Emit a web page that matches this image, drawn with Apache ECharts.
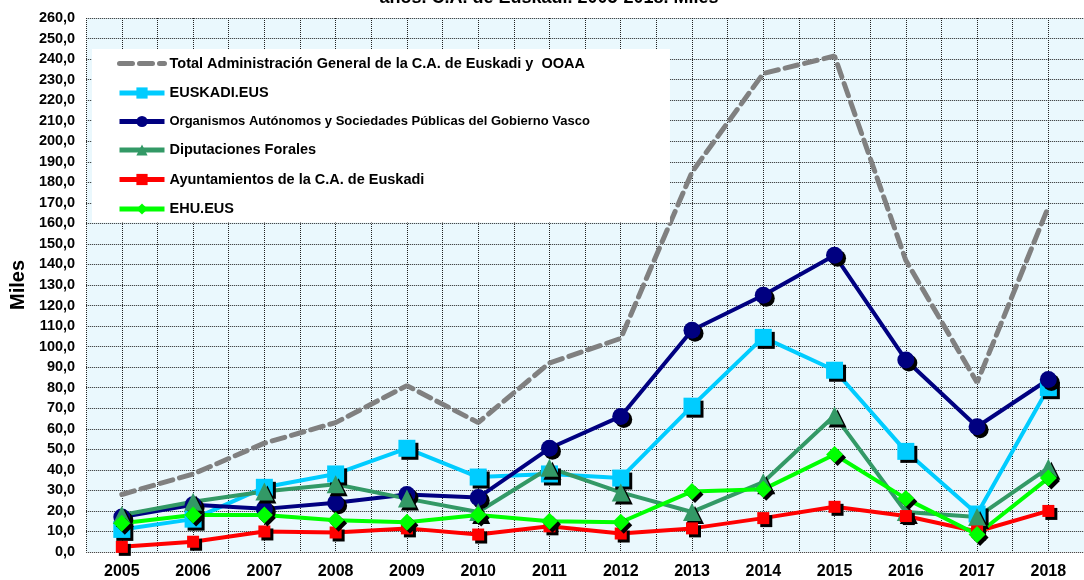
<!DOCTYPE html>
<html>
<head>
<meta charset="utf-8">
<script src="https://cdn.jsdelivr.net/npm/echarts@6/dist/echarts.min.js"></script>
<style>
  html, body { margin: 0; padding: 0; background: #fff; }
  #chart { width: 1084px; height: 580px; }
</style>
</head>
<body>
<div id="chart"></div>
<script>
const years = ['2005', '2006', '2007', '2008', '2009', '2010', '2011', '2012', '2013', '2014', '2015', '2016', '2017', '2018']

const totalAdmin = [28, 38, 53, 63, 81, 63, 92, 104, 185, 233, 241.5, 142, 82.5, 168]
const euskadiEus = [11, 16, 31.5, 38, 50.5, 36.5, 38, 36, 71, 104.5, 88.5, 49, 18.5, 80]
const organismos = [17, 23, 21, 24, 28, 26.5, 50.5, 66, 108, 125, 144.5, 93.5, 61, 84]
const diputaciones = [18, 24.5, 29.5, 33, 26, 19.5, 41, 29, 19.5, 34, 66.5, 19.5, 17, 41]
const ayuntamientos = [2.5, 5, 10, 9.5, 11.5, 8.5, 12.5, 9, 11.5, 16.5, 22, 17.5, 10, 20]
const ehuEus = [14, 18, 18, 15.5, 14.5, 18, 15, 14.5, 29.5, 30.5, 47.5, 26, 8.5, 36]

const legendNames = [
  'Total Administración General de la C.A. de Euskadi y  OOAA',
  'EUSKADI.EUS',
  'Organismos Autónomos y Sociedades Públicas del Gobierno Vasco',
  'Diputaciones Forales',
  'Ayuntamientos de la C.A. de Euskadi',
  'EHU.EUS'
]

const chart = echarts.init(document.getElementById('chart'))

const markerShadow = {
  shadowColor: '#000',
  shadowBlur: 0,
  shadowOffsetX: 3,
  shadowOffsetY: 3
}

const lineSeries = (name, data, color, symbol, size) => ({
  name: name,
  type: 'line',
  data: data,
  symbol: symbol,
  symbolSize: size,
  lineStyle: { color: color, width: 4 },
  itemStyle: Object.assign({ color: color }, markerShadow)
})

const option = {
  backgroundColor: '#fff',
  animation: false,
  textStyle: { fontFamily: 'Liberation Sans, Arial, sans-serif' },

  title: {
    text: 'años. C.A. de Euskadi. 2005-2018. Miles',
    left: 544,
    textAlign: 'center',
    top: -16,
    textStyle: { fontSize: 18, fontWeight: 'bold', color: '#000' }
  },

  legend: {
    orient: 'vertical',
    left: 92,
    top: 49,
    backgroundColor: '#fff',
    padding: [7, 80, 6, 25],
    itemWidth: 45,
    itemHeight: 14,
    itemGap: 14.5,
    lineStyle: { width: 5 },
    itemStyle: { shadowColor: 'transparent', shadowOffsetX: 0, shadowOffsetY: 0 },
    textStyle: { fontSize: 14.5, fontWeight: 'bold', color: '#000' },
    data: [
      { name: legendNames[0], itemStyle: { opacity: 0 } },
      { name: legendNames[1] },
      { name: legendNames[2], textStyle: { fontSize: 13 } },
      { name: legendNames[3] },
      { name: legendNames[4] },
      { name: legendNames[5] }
    ]
  },

  grid: {
    left: 85,
    right: -12,
    top: 18,
    bottom: 28,
    show: true,
    backgroundColor: '#eaf8fd',
    borderWidth: 0
  },

  xAxis: [
    {
      type: 'category',
      data: years,
      boundaryGap: true,
      axisLine: { show: false },
      axisTick: { show: false },
      splitLine: { show: false },
      axisLabel: { color: '#000', fontSize: 16, fontWeight: 'bold', margin: 12 }
    },
    {
      // half-category grid lines
      type: 'value',
      min: -0.5,
      max: 13.5,
      interval: 0.5,
      show: true,
      position: 'bottom',
      axisLine: { show: false },
      axisTick: { show: false },
      axisLabel: { show: false },
      splitLine: { lineStyle: { color: '#222', type: [1, 1], width: 1 } }
    }
  ],

  yAxis: {
    type: 'value',
    min: 0,
    max: 260,
    interval: 10,
    name: 'Miles',
    nameLocation: 'middle',
    nameRotate: 90,
    nameGap: 56,
    nameTextStyle: { fontSize: 20, fontWeight: 'bold', color: '#000' },
    axisLine: { show: false },
    axisTick: { show: false },
    axisLabel: {
      color: '#000',
      fontSize: 14.5,
      fontWeight: 'bold',
      margin: 11,
      formatter: (v) => v.toFixed(1).replace('.', ',')
    },
    splitLine: { lineStyle: { color: '#222', type: [1, 1], width: 1 } }
  },

  series: [
    {
      name: legendNames[0],
      type: 'line',
      data: totalAdmin,
      symbol: 'none',
      lineStyle: { color: '#808080', width: 5, type: [13, 7], cap: 'round' },
      itemStyle: { color: '#808080' }
    },
    lineSeries(legendNames[1], euskadiEus, '#00ccff', 'rect', 17),
    lineSeries(legendNames[2], organismos, '#000080', 'circle', 17),
    lineSeries(legendNames[3], diputaciones, '#339966', 'triangle', 18),
    lineSeries(legendNames[4], ayuntamientos, '#ff0000', 'rect', 12),
    lineSeries(legendNames[5], ehuEus, '#00ff00', 'diamond', 17)
  ]
}

chart.setOption(option)
</script>
</body>
</html>
